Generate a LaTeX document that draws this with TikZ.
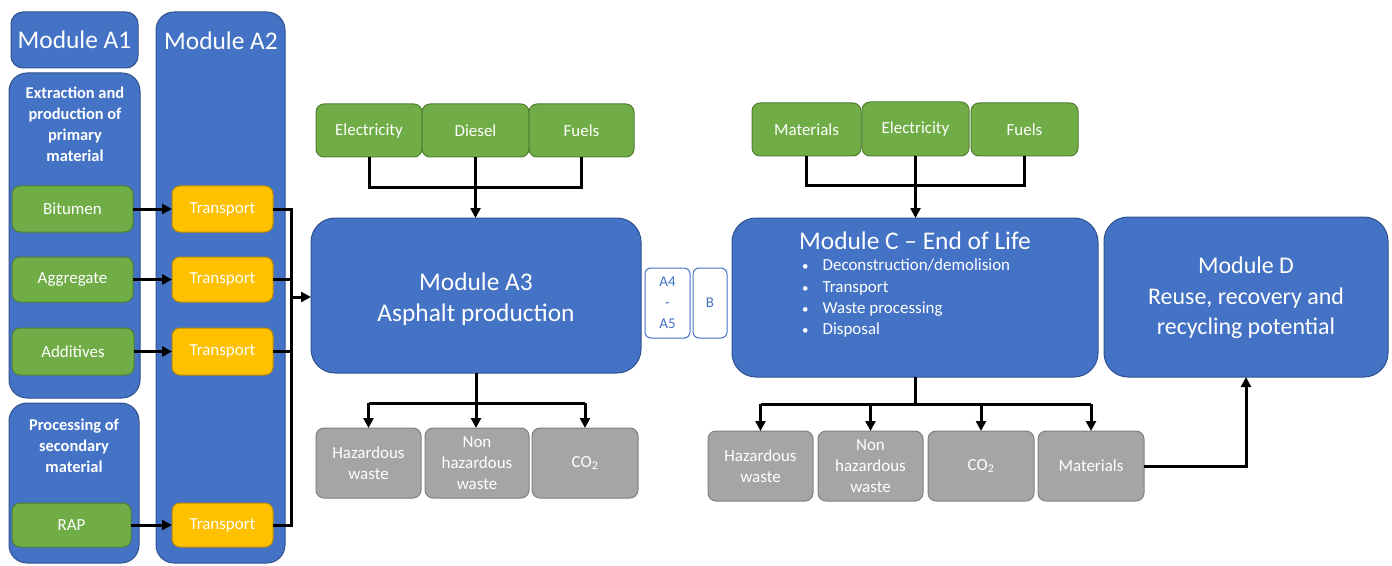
\documentclass[tikz,border=0pt]{standalone}
\usepackage{fontspec}
\setmainfont{Carlito}
\usetikzlibrary{arrows.meta}
\definecolor{mblue}{HTML}{4472C4}
\definecolor{mblueD}{HTML}{2F528F}
\definecolor{mgreen}{HTML}{70AD47}
\definecolor{mgreenD}{HTML}{507E32}
\definecolor{mgold}{HTML}{FFC000}
\definecolor{mgoldD}{HTML}{BC8C00}
\definecolor{mgray}{HTML}{A5A5A5}
\definecolor{mgrayD}{HTML}{7F7F7F}
\newcommand\boxat[7]{\node[#1, minimum width={(#5-#3)*1bp}, minimum height={(#6-#4)*1bp}] (#2) at ({(#3+#5)/2},{(#4+#6)/2}) {#7};}
\newcommand\mybul{{\fontsize{13}{21}\selectfont\textbullet}\hspace{14bp}}
\tikzset{
  base/.style={inner sep=0pt, outer sep=0pt, line width=1bp, text=white, align=center, font=\fontsize{17}{21}\selectfont},
  bigblue/.style={base, fill=mblue, draw=mblueD, rounded corners=24bp},
  colblue/.style={base, fill=mblue, draw=mblueD, rounded corners=18bp},
  hdrblue/.style={base, fill=mblue, draw=mblueD, rounded corners=12bp, font=\fontsize{25.5}{30}\selectfont},
  grnbox/.style={base, fill=mgreen, draw=mgreenD, rounded corners=8bp},
  goldbox/.style={base, fill=mgold, draw=mgoldD, rounded corners=8bp},
  graybox/.style={base, fill=mgray, draw=mgrayD, rounded corners=8bp},
  smallbox/.style={base, fill=white, draw=mblue, text=mblue, rounded corners=6bp, font=\fontsize{15}{21}\selectfont},
  lbl/.style={inner sep=0pt, text=white, align=center},
  conn/.style={line width=3bp, draw=black},
  arr/.style={conn, -{Triangle[length=10bp,width=10bp]}}
}
\begin{document}
\begin{tikzpicture}[x=1bp,y=-1bp]
\useasboundingbox (0,0) rectangle (1392,566);
% ---- Module A1 / A2 columns
\boxat{hdrblue}{a1h}{11}{12}{138}{68}{Module A1}
\boxat{colblue}{a1p}{9}{73}{140}{398}{}
\boxat{colblue}{a1s}{9}{403}{139}{563}{}
\boxat{colblue}{a2}{156}{12}{285}{563}{}
\node[lbl, font=\fontsize{25.5}{30}\selectfont] (a2t) at (221,41) {Module A2};
\node[lbl, font=\bfseries\fontsize{16.5}{21}\selectfont] (a1pt) at (75,124) {Extraction and\\production of\\primary\\material};
\node[lbl, font=\bfseries\fontsize{16.5}{21}\selectfont] (a1st) at (74,446) {Processing of\\secondary\\material};
% green materials
\boxat{grnbox}{bit}{12}{186}{133}{232}{Bitumen}
\boxat{grnbox}{agg}{12}{257}{133}{302}{Aggregate}
\boxat{grnbox}{add}{12}{328}{134}{375}{Additives}
\boxat{grnbox}{rap}{12}{503}{131}{547}{RAP}
% transport
\boxat{goldbox}{t1}{172}{186}{273}{232}{Transport}
\boxat{goldbox}{t2}{172}{257}{273}{302}{Transport}
\boxat{goldbox}{t3}{172}{328}{273}{375}{Transport}
\boxat{goldbox}{t4}{172}{503}{273}{547}{Transport}
% ---- Module A3
\boxat{bigblue}{a3}{311}{218}{641}{373}{}
\node[lbl, font=\fontsize{25.5}{31}\selectfont] (a3t) at (476,299) {Module A3\\Asphalt production};
\boxat{grnbox}{el1}{316}{104}{422}{157}{Electricity}
\boxat{grnbox}{di1}{422}{104}{529}{157}{Diesel}
\boxat{grnbox}{fu1}{529}{104}{634}{157}{Fuels}
\boxat{graybox}{hz1}{316}{428}{421}{498}{Hazardous\\waste}
\boxat{graybox}{nh1}{425}{428}{529}{498}{Non\\hazardous\\waste}
\boxat{graybox}{co1}{532}{428}{638}{498}{CO\textsubscript{2}}
% ---- A4-A5, B
\boxat{smallbox}{a45}{645}{268}{690}{338}{A4\\-\\A5}
\boxat{smallbox}{bb}{693}{268}{727}{338}{B}
% ---- Module C
\boxat{bigblue}{mc}{732}{218}{1098}{377}{}
\node[lbl, font=\fontsize{25.5}{30}\selectfont] (mct) at (915,241) {Module C -- End of Life};
\node[lbl, anchor=north west, align=left, font=\fontsize{17}{21.3}\selectfont] (mcl) at (802,259)
  {\mybul Deconstruction/demolision\\
   \mybul Transport\\
   \mybul Waste processing\\
   \mybul Disposal};
\boxat{grnbox}{ma1}{752}{103}{861}{156}{Materials}
\boxat{grnbox}{el2}{862}{102}{969}{156}{Electricity}
\boxat{grnbox}{fu2}{971}{103}{1078}{156}{Fuels}
\boxat{graybox}{hz2}{708}{431}{813}{501}{Hazardous\\waste}
\boxat{graybox}{nh2}{818}{431}{923}{501}{Non\\hazardous\\waste}
\boxat{graybox}{co2}{928}{431}{1034}{501}{CO\textsubscript{2}}
\boxat{graybox}{ma2}{1038}{431}{1144}{501}{Materials}
% ---- Module D
\boxat{bigblue}{md}{1104}{217}{1388}{377}{}
\node[lbl, font=\fontsize{24}{30.5}\selectfont] (mdt) at (1246,298) {Module D\\Reuse, recovery and\\recycling potential};
% ---- connectors: A1 -> A2
\draw[arr] (bit.east) -- (t1.west);
\draw[arr] (agg.east) -- (agg.east -| t2.west);
\draw[arr] (add.east) -- (add.east -| t3.west);
\draw[arr] (rap.east) -- (rap.east -| t4.west);
\coordinate (bus) at (291,297);
\draw[conn] (t1.east) -| (t4.east -| bus) -- (t4.east);
\draw[conn] (t2.east) -- (t2.east -| bus);
\draw[conn] (t3.east) -- (t3.east -| bus);
\draw[arr] (bus) -- (bus -| a3.west);
% A3 inputs
\coordinate (h3) at (476,188);
\draw[conn] (el1.south) |- (h3) -| (fu1.south);
\draw[arr] (di1.south) -- (di1.south |- a3.north);
% A3 outputs
\coordinate (b3) at (476,403);
\draw[conn] (a3.south) -- (b3);
\draw[conn] (hz1.north |- b3) -- (co1.north |- b3);
\draw[arr] (hz1.north |- b3) -- (hz1.north);
\draw[arr] (b3) -- (b3 |- nh1.north);
\draw[arr] (co1.north |- b3) -- (co1.north);
% C inputs
\coordinate (hc) at (915,186);
\draw[conn] (ma1.south) |- (hc) -| (fu2.south);
\draw[arr] (el2.south) -- (el2.south |- mc.north);
% C outputs
\coordinate (bc) at (915,404);
\draw[conn] (mc.south) -- (bc);
\draw[conn] (hz2.north |- bc) -- (ma2.north |- bc);
\draw[arr] (hz2.north |- bc) -- (hz2.north);
\draw[arr] (nh2.north |- bc) -- (nh2.north);
\draw[arr] (co2.north |- bc) -- (co2.north);
\draw[arr] (ma2.north |- bc) -- (ma2.north);
% Materials -> D
\draw[arr] (ma2.east) -| (md.south);
\end{tikzpicture}
\end{document}
